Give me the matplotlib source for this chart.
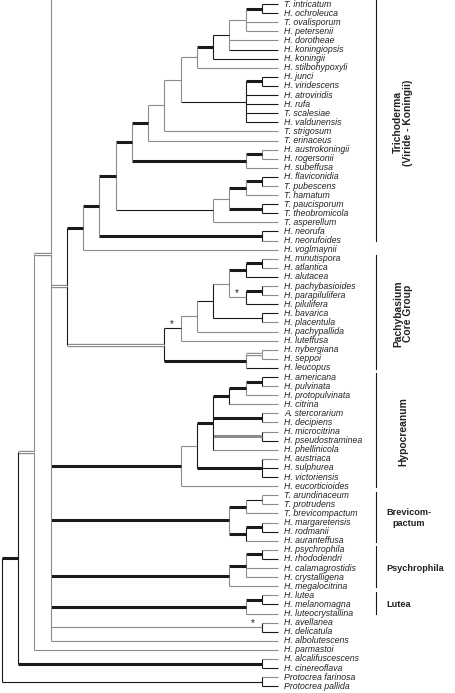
import matplotlib.pyplot as plt

plt.rcParams['font.family'] = ['Liberation Sans', 'DejaVu Sans']

# tree node = (level, vertical-line style, [(stem style, child), ...], star)
# leaf = species name; None = branch that runs off the top of the excerpt
# styles: k thin black, g thin grey, K thick black, G thick grey, D double line
LEAF_LEVEL = 17
HIDDEN_Y = -15

koningii_grp = (14, 'g', [
    ('g', (15, 'g', [('K', (16, 'k', [('k', 'T. intricatum'), ('k', 'H. ochroleuca')], False)),
                     ('g', 'T. ovalisporum'), ('g', 'H. petersenii')], False)),
    ('g', 'H. dorotheae'), ('k', 'H. koningiopsis')], False)
viride_grp = (15, 'k', [
    ('K', (16, 'k', [('k', 'H. junci'), ('k', 'H. viridescens')], False)),
    ('k', 'H. atroviridis'), ('k', 'H. rufa'), ('k', 'T. scalesiae'), ('k', 'H. valdunensis')], False)
upper_grp = (9, 'g', [
    ('g', (10, 'g', [
        ('g', (11, 'g', [
            ('g', (12, 'g', [('K', (13, 'k', [('k', koningii_grp), ('k', 'H. koningii')], False)),
                             ('g', 'H. stilbohypoxyli')], False)),
            ('k', viride_grp)], False)),
        ('g', 'T. strigosum')], False)),
    ('g', 'T. erinaceus')], False)
austro_grp = (15, 'g', [
    ('K', (16, 'g', [('g', 'H. austrokoningii'), ('g', 'H. rogersonii')], False)),
    ('g', 'H. subeffusa')], False)
hamatum_grp = (13, 'g', [
    ('g', (14, 'g', [
        ('K', (15, 'g', [('K', (16, 'k', [('k', 'H. flaviconidia'), ('g', 'T. pubescens')], False)),
                         ('g', 'T. hamatum')], False)),
        ('K', (16, 'k', [('k', 'T. paucisporum'), ('k', 'T. theobromicola')], False))], False)),
    ('g', 'T. asperellum')], False)
trichoderma = (5, 'g', [
    ('K', (6, 'g', [
        ('K', (7, 'g', [
            ('K', (8, 'g', [('K', upper_grp), ('K', austro_grp)], False)),
            ('k', hamatum_grp)], False)),
        ('K', (16, 'k', [('k', 'H. neorufa'), ('g', 'H. neorufoides')], False))], False)),
    ('g', 'H. voglmaynii')], False)

pachy_inner = (14, 'g', [
    ('K', (15, 'k', [('K', (16, 'k', [('g', 'H. minutispora'), ('g', 'H. atlantica')], False)),
                     ('k', 'H. alutacea')], False)),
    ('g', (15, 'k', [('K', (16, 'k', [('g', 'H. pachybasioides'), ('g', 'H. parapilulifera')], False)),
                     ('k', 'H. pilulifera')], True))], False)
pachybasium = (10, 'k', [
    ('k', (11, 'g', [
        ('g', (12, 'g', [
            ('k', (13, 'k', [('g', pachy_inner),
                             ('k', (16, 'k', [('k', 'H. bavarica'), ('g', 'H. placentula')], False))], False)),
            ('g', 'H. pachypallida')], False)),
        ('g', 'H. luteffusa')], True)),
    ('K', (15, 'g', [('D', (16, 'g', [('g', 'H. nybergiana'), ('g', 'H. seppoi')], False)),
                     ('k', 'H. leucopus')], False))], False)

hypocreanum = (11, 'g', [
    ('g', (12, 'k', [
        ('K', (13, 'k', [
            ('K', (14, 'k', [
                ('K', (15, 'g', [('K', (16, 'k', [('k', 'H. americana'), ('g', 'H. pulvinata')], False)),
                                 ('g', 'H. protopulvinata')], False)),
                ('g', 'H. citrina')], False)),
            ('K', (16, 'k', [('g', 'A. stercorarium'), ('g', 'H. decipiens')], False)),
            ('G', (16, 'k', [('g', 'H. microcitrina'), ('k', 'H. pseudostraminea')], False)),
            ('g', 'H. phellinicola')], False)),
        ('K', (16, 'k', [('g', 'H. austriaca'), ('k', 'H. sulphurea'), ('k', 'H. victoriensis')], False))], False)),
    ('g', 'H. eucorticioides')], False)

brevicompactum = (14, 'g', [
    ('K', (15, 'g', [('k', (16, 'g', [('g', 'T. arundinaceum'), ('g', 'T. protrudens')], False)),
                     ('g', 'T. brevicompactum')], False)),
    ('K', (15, 'k', [('K', (16, 'k', [('g', 'H. margaretensis'), ('k', 'H. rodmanii')], False)),
                     ('g', 'H. auranteffusa')], False))], False)

psychrophila = (14, 'g', [
    ('K', (15, 'g', [('K', (16, 'k', [('g', 'H. psychrophila'), ('k', 'H. rhododendri')], False)),
                     ('g', 'H. calamagrostidis'), ('g', 'H. crystalligena')], False)),
    ('g', 'H. megalocitrina')], False)

lutea = (15, 'g', [('K', (16, 'k', [('g', 'H. lutea'), ('k', 'H. melanomagna')], False)),
                   ('g', 'H. luteocrystallina')], False)

core = (3, 'g', [
    ('g', None),
    ('D', (4, 'k', [('K', trichoderma), ('D', pachybasium)], False)),
    ('K', hypocreanum),
    ('K', brevicompactum),
    ('K', psychrophila),
    ('K', lutea),
    ('g', (16, 'k', [('g', 'H. avellanea'), ('k', 'H. delicatula')], True)),
    ('g', 'H. albolutescens')], False)

tree = (0, 'k', [
    ('K', (1, 'k', [
        ('D', (2, 'g', [('D', core), ('g', 'H. parmastoi')], False)),
        ('K', (16, 'k', [('g', 'H. alcalifuscescens'), ('k', 'H. cinereoflava')], False))], False)),
    ('k', (16, 'k', [('g', 'Protocrea farinosa'), ('k', 'Protocrea pallida')], False))], False)

# clade brackets: label, first leaf, last leaf, vertical text?
bracket_labels = ['Trichoderma\n(Viride - Koningii)', 'Pachybasium\nCore Group', 'Hypocreanum',
                  'Brevicom-\npactum', 'Psychrophila', 'Lutea']
bracket_first = [0, 28, 41, 54, 60, 65]
bracket_last = [26, 40, 53, 59, 64, 67]
bracket_rotated = [True, True, True, False, False, False]

GREY = '#8c8c8c'
BLACK = '#1a1a1a'

fig = plt.figure(figsize=(4.55, 6.93), dpi=100)
ax = fig.add_axes([0, 0, 1, 1])
ax.set_xlim(-0.123, 27.9)
ax.set_ylim(75.74, -0.45)
ax.axis('off')


def seg(xs, ys, style):
    if style == 'D':
        ax.plot(xs, ys, color=GREY, lw=2.4, solid_capstyle='butt')
        ax.plot(xs, ys, color='white', lw=0.7, solid_capstyle='butt')
    else:
        color = BLACK if style in 'kK' else GREY
        lw = 2.2 if style in 'KG' else 0.8
        ax.plot(xs, ys, color=color, lw=lw, solid_capstyle='butt')


counter = [0]


def draw(node, parent_level, stem):
    if node is None:
        return HIDDEN_Y
    if isinstance(node, str):
        y = counter[0]
        counter[0] += 1
        seg([parent_level, LEAF_LEVEL], [y, y], stem)
        ax.text(LEAF_LEVEL + 0.37, y, node, fontsize=6.3, style='italic',
                va='center', ha='left', color='#222222')
        return y
    level, vstyle, children, star = node
    ys = [draw(c, level, s) for s, c in children]
    y = (ys[0] + ys[-1]) / 2
    seg([level, level], [ys[0], ys[-1]], vstyle)
    if parent_level is not None:
        seg([parent_level, level], [y, y], stem)
    if star:
        ax.annotate('*', (level, y), xytext=(-6.5, 3), textcoords='offset points',
                    ha='center', va='center', fontsize=7, color=BLACK)
    return y


draw(tree, None, None)

BRACKET_X = 23.04
for label, first, last, rot in zip(bracket_labels, bracket_first, bracket_last, bracket_rotated):
    ax.plot([BRACKET_X, BRACKET_X], [first - 0.4, last + 0.1], color=BLACK, lw=0.8)
    mid = (first + last) / 2
    if rot:
        ax.text(24.7, mid, label, rotation=90, ha='center', va='center', multialignment='center',
                fontsize=7.4, fontweight='bold', linespacing=1.0, color='#222222')
    else:
        ax.text(23.65, mid, label, ha='left', va='center', multialignment='center',
                fontsize=6.6, fontweight='bold', linespacing=1.15, color='#222222')

fig.savefig('out.png', dpi=100)
